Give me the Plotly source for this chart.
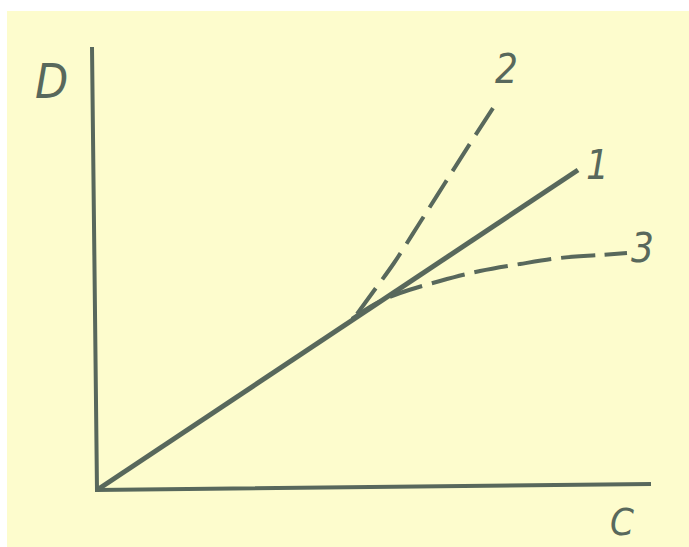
import plotly.graph_objects as go

# Axis frame (C horizontal, D vertical), drawn in the same data space as the curves
frame_c = [-0.05, 0.0, 5.54]
frame_d = [4.43, 0.0, 0.06]

# Curve 1: straight proportional relation
c1 = [0.0, 4.81]
d1 = [0.0, 3.20]

# Curve 2: positive deviation (bends upward)
c2 = [2.60, 2.76, 2.97, 3.22, 3.48, 3.74, 4.02]
d2 = [1.76, 1.98, 2.27, 2.66, 3.07, 3.48, 3.91]

# Curve 3: negative deviation (levels off)
c3 = [2.55, 2.78, 3.03, 3.43, 3.83, 4.23, 4.63, 5.03, 5.30]
d3 = [1.71, 1.86, 1.97, 2.09, 2.19, 2.26, 2.32, 2.35, 2.37]

# Curve numbers placed at the ends of the curves
curve_labels = ["1", "2", "3"]
label_c = [5.00, 4.09, 5.45]
label_d = [3.25, 4.21, 2.42]

ink = "#58685c"
paper_yellow = "#fdfccd"
label_font = dict(family="DejaVu Sans Condensed, Liberation Sans Narrow, sans-serif",
                  size=40, color=ink, style="italic")

fig = go.Figure()

fig.add_trace(go.Scatter(x=frame_c, y=frame_d, mode="lines",
                         line=dict(color=ink, width=4), hoverinfo="skip"))
fig.add_trace(go.Scatter(x=c1, y=d1, mode="lines",
                         line=dict(color=ink, width=5), hoverinfo="skip"))
fig.add_trace(go.Scatter(x=c2, y=d2, mode="lines", line_shape="spline",
                         line=dict(color=ink, width=4, dash="32px,11px"), hoverinfo="skip"))
fig.add_trace(go.Scatter(x=c3, y=d3, mode="lines", line_shape="spline",
                         line=dict(color=ink, width=4, dash="34px,10px"), hoverinfo="skip"))

for txt, cx, dy in zip(curve_labels, label_c, label_d):
    fig.add_annotation(x=cx, y=dy, xref="x", yref="y", text=txt, showarrow=False,
                       font=label_font)

# Axis names
fig.add_annotation(x=-0.46, y=4.09, xref="x", yref="y", text="D", showarrow=False,
                   font=dict(label_font, size=48))
fig.add_annotation(x=5.25, y=-0.32, xref="x", yref="y", text="C", showarrow=False,
                   font=dict(label_font, size=38))

# Page background: white edge strip at top and left, yellowed paper elsewhere
fig.add_shape(type="rect", xref="paper", yref="paper", x0=7 / 689, x1=1.0,
              y0=0.0, y1=1 - 11 / 547, fillcolor=paper_yellow, line_width=0,
              layer="below")

fig.update_layout(
    width=689, height=547,
    margin=dict(l=0, r=0, t=0, b=0),
    paper_bgcolor="white",
    plot_bgcolor="rgba(0,0,0,0)",
    showlegend=False,
    xaxis=dict(range=[-0.97, 5.92], visible=False, fixedrange=True),
    yaxis=dict(range=[-0.57, 4.90], visible=False, fixedrange=True),
)

fig.write_html("out.html", config={"displayModeBar": False})
